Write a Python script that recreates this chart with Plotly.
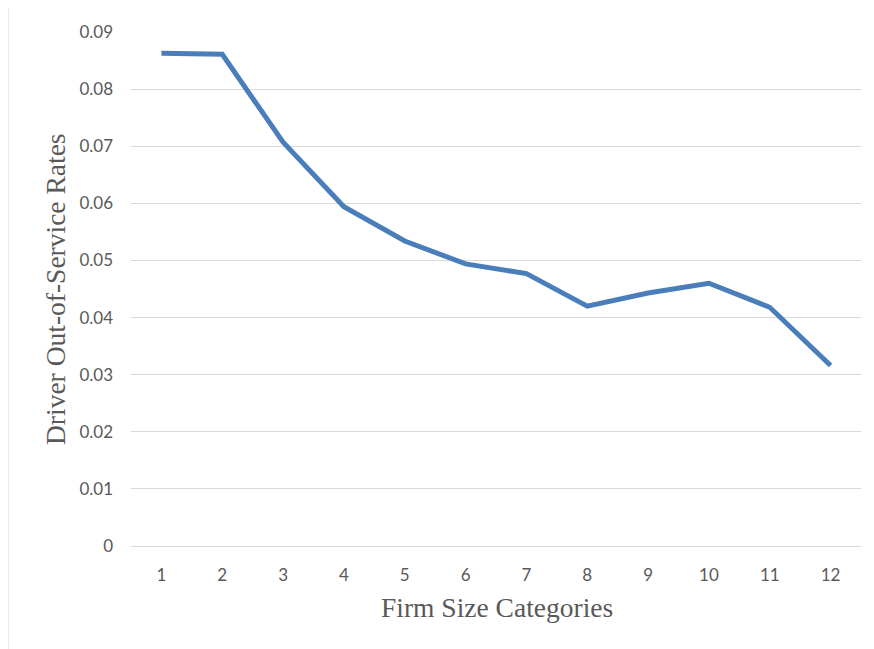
import plotly.graph_objects as go

categories = [1, 2, 3, 4, 5, 6, 7, 8, 9, 10, 11, 12]
oos_rates = [0.0863, 0.0861, 0.0707, 0.0594, 0.0534, 0.0494, 0.0477, 0.0420, 0.0443, 0.0460, 0.0418, 0.0316]
y_ticks = [0, 0.01, 0.02, 0.03, 0.04, 0.05, 0.06, 0.07, 0.08, 0.09]
y_tick_labels = ["0", "0.01", "0.02", "0.03", "0.04", "0.05", "0.06", "0.07", "0.08", "0.09"]

# page body has an 8px margin; work in reference pixel coords and shift
OFF = 8
W, H = 874 - OFF, 649 - OFF
L, R, T, B = 131 - OFF, 13, 32 - OFF, 103
PW, PH = W - L - R, H - T - B


def px_x(x):
    return (x - OFF - L) / PW


def px_y(y):
    return (H - B - (y - OFF)) / PH


fig = go.Figure()
fig.add_trace(go.Scatter(
    x=categories, y=oos_rates, mode="lines",
    line=dict(color="#4A7EBB", width=5),
    showlegend=False, hoverinfo="skip",
))

tick_font = dict(family="Lato, Carlito, 'Open Sans', sans-serif", size=17, color="#595959")
title_font = dict(family="'Liberation Serif', 'Times New Roman', serif", size=27.5, color="#595959")

fig.update_layout(
    width=W, height=H,
    margin=dict(l=L, r=R, t=T, b=B),
    paper_bgcolor="white", plot_bgcolor="white",
    xaxis=dict(
        range=[0.5, 12.5], tickmode="array", tickvals=categories,
        ticktext=[str(c) for c in categories],
        showgrid=False, zeroline=False, showline=False, ticks="",
        tickfont=tick_font, ticklabelstandoff=17,
    ),
    yaxis=dict(
        range=[0, 0.09], tickmode="array", tickvals=y_ticks, ticktext=y_tick_labels,
        showgrid=True, gridcolor="#D9D9D9", gridwidth=1,
        zeroline=True, zerolinecolor="#D9D9D9", zerolinewidth=1,
        showline=False, ticks="", tickfont=tick_font, ticklabelstandoff=17,
    ),
    annotations=[
        dict(text="Driver Out-of-Service Rates", textangle=-90,
             xref="paper", yref="paper",
             x=px_x(55), y=px_y(289),
             xanchor="center", yanchor="middle", showarrow=False, font=title_font),
        dict(text="Firm Size Categories",
             xref="paper", yref="paper",
             x=px_x(497), y=px_y(607),
             xanchor="center", yanchor="middle", showarrow=False, font=title_font),
    ],
    shapes=[
        dict(type="rect", xref="paper", yref="paper",
             x0=px_x(8), x1=px_x(890),
             y0=px_y(670), y1=px_y(7),
             line=dict(color="#D9D9D9", width=1), fillcolor="rgba(0,0,0,0)", layer="below"),
    ],
)

fig.write_html("out.html")
